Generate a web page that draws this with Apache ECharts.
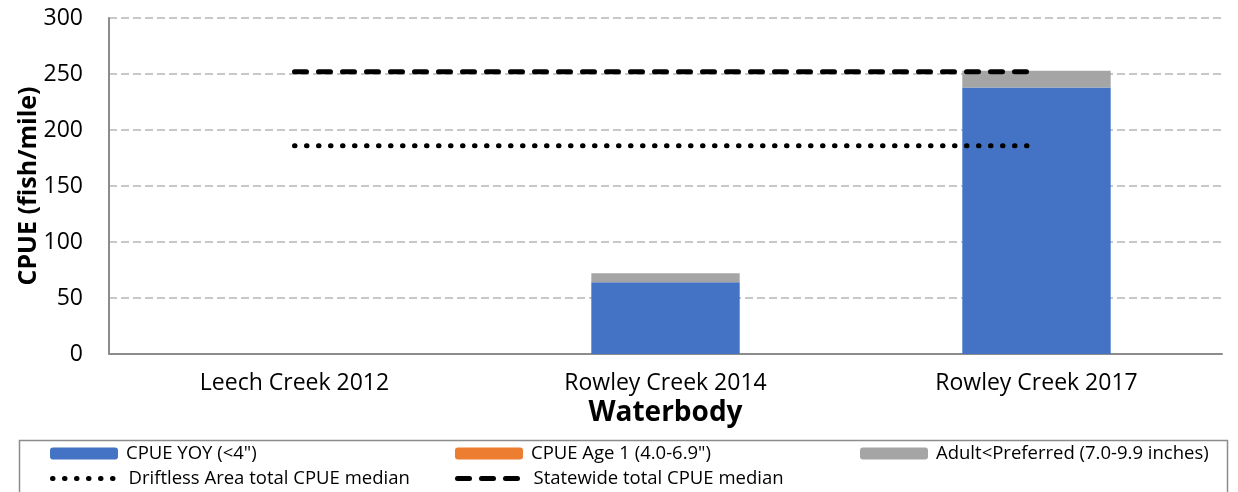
<!DOCTYPE html>
<html>
<head>
<meta charset="utf-8">
<script src="https://cdn.jsdelivr.net/npm/echarts@6/dist/echarts.min.js"></script>
<style>
html,body{margin:0;padding:0;background:#fff;}
#chart{width:1238px;height:492px;}
</style>
</head>
<body>
<div id="chart"></div>
<script>
var categories = ['Leech Creek 2012', 'Rowley Creek 2014', 'Rowley Creek 2017'];
var yoy = [0, 64, 238];
var age1 = [0, 0, 0];
var adult = [0, 8, 15];
var driftlessMedian = [186, 186, 186];
var statewideMedian = [252, 252, 252];
var yTicks = [0, 50, 100, 150, 200, 250, 300];

var FONT = 'Open Sans';
var DOTTED = [0.5, 11.5];
var DASHED = [12, 12];
var chart = echarts.init(document.getElementById('chart'));

function legendItem(name, left, top, lineType) {
  var l = {
    show: true,
    data: [name],
    left: left,
    top: top,
    padding: 0,
    itemWidth: 68,
    itemHeight: 12,
    textStyle: {fontFamily: FONT, fontSize: 18.5, color: '#000', padding: [0, 0, 0, 3]},
    selectedMode: false
  };
  if (lineType) {
    l.itemStyle = {opacity: 0};
    l.lineStyle = {color: '#000', width: 5, type: lineType, cap: 'round', opacity: 1};
  }
  return l;
}

var option = {
  animation: false,
  backgroundColor: '#fff',
  grid: {left: 109, right: 16, top: 18, bottom: 138, containLabel: false},
  xAxis: {
    type: 'category',
    data: categories,
    axisLine: {show: true, lineStyle: {color: '#8c8c8c', width: 2}},
    axisTick: {show: false},
    axisLabel: {fontFamily: FONT, fontSize: 23, color: '#000', margin: 18},
    name: 'Waterbody',
    nameLocation: 'middle',
    nameGap: 45,
    nameMoveOverlap: false,
    nameTextStyle: {fontFamily: FONT, fontSize: 28, fontWeight: 'bold', color: '#000'}
  },
  yAxis: {
    type: 'value',
    min: yTicks[0],
    max: yTicks[yTicks.length - 1],
    interval: 50,
    axisLine: {show: true, lineStyle: {color: '#8c8c8c', width: 2}},
    axisTick: {show: false},
    axisLabel: {fontFamily: FONT, fontSize: 23, color: '#000', margin: 26},
    splitLine: {show: true, lineStyle: {color: '#c8c8c8', width: 2, type: [8, 4]}},
    name: 'CPUE (fish/mile)',
    nameLocation: 'middle',
    nameGap: 68,
    nameMoveOverlap: false,
    nameTextStyle: {fontFamily: FONT, fontSize: 25, fontWeight: 'bold', color: '#000'}
  },
  legend: [
    legendItem('CPUE YOY (<4")', 50, 444),
    legendItem('CPUE Age 1 (4.0-6.9")', 455, 444),
    legendItem('Adult<Preferred (7.0-9.9 inches)', 860, 444),
    legendItem('Driftless Area total CPUE median', 50, 469, DOTTED),
    legendItem('Statewide total CPUE median', 455, 469, DASHED)
  ],
  graphic: [{
    type: 'rect',
    shape: {x: 19.5, y: 440.5, width: 1208, height: 60},
    style: {fill: 'none', stroke: '#8c8c8c', lineWidth: 1.5},
    silent: true
  }],
  series: [
    {name: 'CPUE YOY (<4")', type: 'bar', stack: 'cpue', data: yoy, barWidth: '40%',
     itemStyle: {color: '#4472C4'}},
    {name: 'CPUE Age 1 (4.0-6.9")', type: 'bar', stack: 'cpue', data: age1, barWidth: '40%',
     itemStyle: {color: '#ED7D31'}},
    {name: 'Adult<Preferred (7.0-9.9 inches)', type: 'bar', stack: 'cpue', data: adult, barWidth: '40%',
     itemStyle: {color: '#A5A5A5'}},
    {name: 'Driftless Area total CPUE median', type: 'line', data: driftlessMedian, symbol: 'none',
     itemStyle: {color: '#000'},
     lineStyle: {color: '#000', width: 5, type: DOTTED, cap: 'round'}, z: 5},
    {name: 'Statewide total CPUE median', type: 'line', data: statewideMedian, symbol: 'none',
     itemStyle: {color: '#000'},
     lineStyle: {color: '#000', width: 5, type: DASHED, cap: 'round'}, z: 5}
  ]
};
chart.setOption(option);
</script>
</body>
</html>
